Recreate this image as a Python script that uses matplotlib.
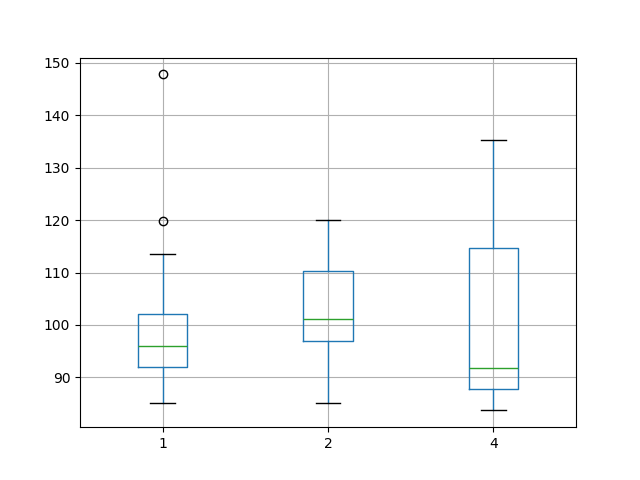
import matplotlib
matplotlib.use("Agg")
import matplotlib.pyplot as plt

groups = ["1", "2", "4"]
whislo = [85.2, 85.1, 83.7]
q1 = [92.0, 96.9, 87.8]
med = [95.9, 101.1, 91.7]
q3 = [102.1, 110.2, 114.6]
whishi = [113.6, 120.1, 135.3]
fliers = [[119.8, 147.8], [], []]

stats = []
for i, g in enumerate(groups):
    stats.append({
        "label": g,
        "whislo": whislo[i],
        "q1": q1[i],
        "med": med[i],
        "q3": q3[i],
        "whishi": whishi[i],
        "fliers": fliers[i],
    })

fig, ax = plt.subplots(figsize=(6.4, 4.8), dpi=100)
ax.bxp(
    stats,
    showfliers=True,
    boxprops=dict(color="#1f77b4"),
    whiskerprops=dict(color="#1f77b4"),
    medianprops=dict(color="#2ca02c"),
    capprops=dict(color="black"),
    flierprops=dict(marker="o", markeredgecolor="black"),
)
ax.grid(True)
fig.savefig("out.png")
